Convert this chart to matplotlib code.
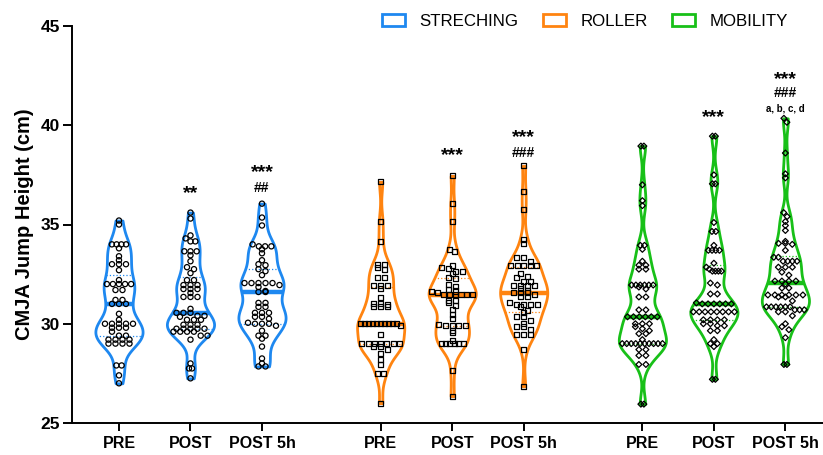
import numpy as np
import matplotlib
matplotlib.use("Agg")
import matplotlib.pyplot as plt
from matplotlib.patches import Patch

plt.rcParams['font.family'] = ['Liberation Sans', 'DejaVu Sans']

# values (cm)
stretch_pre = [35.2, 35.0, 34.0, 34.0, 34.0, 34.0, 33.8, 33.4, 33.2, 33.0, 33.0, 33.0,
               32.7, 32.2, 32.0, 32.0, 32.0, 32.0, 32.0, 31.7, 31.7, 31.2, 31.2,
               31.0, 31.0, 31.0, 30.5, 30.2, 30.0, 30.0, 30.0, 30.0, 30.0, 29.8, 29.8,
               29.8, 29.6, 29.4, 29.4, 29.2, 29.2, 29.2, 29.2, 29.0, 29.0, 29.0, 29.0,
               27.9, 27.9, 27.4, 27.0]
stretch_post = [35.6, 35.3, 34.45, 34.3, 34.15, 34.15, 33.65, 33.65, 33.65, 33.45,
                33.15, 32.85, 32.75, 32.55, 32.2, 32.2, 31.95, 31.95, 31.95, 31.75,
                31.75, 31.75, 31.55, 31.35, 31.35, 31.35, 30.75, 30.55, 30.55, 30.55,
                30.4, 30.4, 30.35, 30.2, 30.2, 30.2, 29.95, 29.95, 29.95, 29.75, 29.75,
                29.75, 29.75, 29.75, 29.6, 29.6, 29.6, 29.6, 29.4, 29.4, 29.2,
                28.0, 27.75, 27.75, 27.25]
stretch_5h = [36.05, 35.35, 34.95, 34.0, 33.9, 33.9, 33.9, 33.75, 33.55, 33.2, 33.0,
              32.95, 32.75, 32.65, 32.45, 32.05, 32.05, 32.05, 32.05, 32.05, 31.95,
              31.85, 31.65, 31.6, 31.6, 31.05, 31.05, 30.85, 30.85, 30.55, 30.55, 30.55,
              30.35, 30.35, 30.25, 30.05, 30.0, 30.0, 30.0, 29.9, 29.65, 29.4, 29.4,
              29.25, 28.85, 28.25, 28.0, 27.85, 27.85]
roller_pre = [37.15, 35.15, 34.15, 33.0, 33.0, 32.85, 32.75, 32.35, 32.35, 31.95, 31.95,
              31.95, 31.8, 31.3, 31.0, 31.0, 30.95, 30.85, 30.85, 30.85,
              30.0, 30.0, 30.0, 30.0, 30.0, 30.0, 30.0, 30.0, 30.0, 30.0, 29.9,
              29.45, 29.0, 29.0, 29.0, 29.0, 29.0, 29.0, 29.0, 28.85, 28.85, 28.7,
              28.5, 28.2, 27.95, 27.5, 27.5, 26.0]
roller_post = [37.45, 36.05, 35.15, 33.75, 33.65, 32.95, 32.85, 32.8, 32.65, 32.65,
               32.55, 32.35, 32.3, 32.0, 31.9, 31.75, 31.65, 31.6, 31.55, 31.45, 31.45,
               31.45, 31.45, 31.45, 31.45, 31.15, 31.15, 31.05, 30.9, 30.7, 30.45,
               30.25, 29.95, 29.9, 29.9, 29.9, 29.9, 29.65, 29.55, 29.15, 29.0, 29.0,
               29.0, 29.0, 29.0, 29.0, 27.65, 26.35]
roller_5h = [37.95, 36.65, 35.75, 34.25, 34.05, 33.35, 33.35, 33.15, 32.95, 32.95, 32.95,
             32.95, 32.95, 32.55, 32.4, 32.35, 32.15, 32.15, 31.95, 31.95, 31.95, 31.95,
             31.8, 31.65, 31.55, 31.55, 31.55, 31.45, 31.35, 31.35, 31.05, 30.95, 30.95,
             30.95, 30.95, 30.85, 30.65, 30.55, 30.35, 30.35, 30.15, 30.0, 29.85, 29.85,
             29.7, 29.45, 29.45, 29.45, 28.7, 26.85]
mobility_pre = [38.95, 38.95, 37.0, 36.2, 35.95, 33.95, 33.95, 33.75, 33.15, 32.95, 32.95,
                32.75, 32.75, 31.95, 31.95, 31.95, 31.95, 31.95, 31.95, 31.85, 31.75,
                31.35, 31.35, 30.7, 30.7, 30.35, 30.35, 30.35, 30.35, 30.35, 30.35,
                30.0, 30.0, 30.0, 29.85, 29.75, 29.65, 29.5, 29.5, 29.2, 29.0, 29.0,
                29.0, 29.0, 29.0, 29.0, 29.0, 29.0, 29.0, 29.0, 28.7, 28.7, 28.4, 28.4,
                27.95, 27.95, 25.95, 25.95]
mobility_post = [39.45, 39.45, 37.5, 37.05, 37.05, 35.1, 34.65, 34.65, 33.95, 33.7, 33.7,
                 33.7, 33.7, 33.05, 32.85, 32.75, 32.65, 32.65, 32.65, 32.65, 32.05,
                 31.95, 31.5, 31.5, 31.05, 31.0, 31.0, 31.0, 31.0, 31.0, 31.0,
                 30.6, 30.6, 30.6, 30.6, 30.6, 30.6, 30.6, 30.6, 30.2, 30.2, 30.2, 30.2,
                 30.0, 30.0, 29.9, 29.9, 29.65, 29.65, 29.2, 29.0, 29.0, 28.85, 27.2, 27.2]
mobility_5h = [40.35, 40.15, 38.6, 37.55, 37.35, 35.6, 35.4, 35.15, 34.95, 34.7, 34.15,
               34.05, 34.05, 34.0, 33.7, 33.35, 33.35, 33.15, 33.15, 33.15, 33.15, 32.85,
               32.85, 32.85, 32.6, 32.45, 32.15, 32.15, 32.15, 32.15, 32.0, 31.8, 31.8,
               31.45, 31.45, 31.45, 31.45, 31.45, 31.45, 31.35, 31.35, 31.15, 30.85,
               30.85, 30.85, 30.85, 30.85, 30.85, 30.7, 30.7, 30.7, 30.6, 30.6, 30.4,
               30.0, 29.85, 29.7, 29.3, 27.95, 27.95]

groups = [stretch_pre, stretch_post, stretch_5h,
          roller_pre, roller_post, roller_5h,
          mobility_pre, mobility_post, mobility_5h]
positions = [0, 1, 2, 3.66, 4.66, 5.66, 7.32, 8.32, 9.32]
tick_labels = ['PRE', 'POST', 'POST 5h'] * 3
treatments = ['STRECHING', 'ROLLER', 'MOBILITY']
colors = ['#1E88F0', '#FF8410', '#18C018']
markers = ['o', 's', 'D']
marker_sizes = [14, 13, 9]

# significance labels: (position index, text, y, fontsize)
sig_labels = [(1, '**', 36.55, 14), (2, '***', 37.6, 14), (2, '##', 36.85, 10),
              (4, '***', 38.45, 14), (5, '***', 39.4, 14), (5, '###', 38.6, 10),
              (7, '***', 40.4, 14), (8, '***', 42.3, 14), (8, '###', 41.6, 10),
              (8, 'a, b, c, d', 40.85, 7)]

XPX = 71.5   # px per x unit
YPX = 19.86  # px per cm


def kde(vals, grid, bw=0.55):
    d = (grid[:, None] - np.asarray(vals)[None, :]) / bw
    return np.exp(-0.5 * d ** 2).sum(1)


def rows(vals, grid, w, binsize=0.25, gap=7.0):
    # lay points out in horizontal rows that fit inside the violin
    vals = np.asarray(vals)
    offs = np.zeros(len(vals))
    bins = np.round(vals / binsize)
    for b in np.unique(bins):
        idx = np.where(bins == b)[0]
        n = len(idx)
        if n == 1:
            continue
        half = np.interp(vals[idx].mean(), grid, w) * XPX
        s = min(gap, max(2 * half - 6, 3) / (n - 1))
        offs[idx] = (np.arange(n) - (n - 1) / 2) * s / XPX
    return offs


fig = plt.figure(figsize=(8.23, 4.55), dpi=100)
ax = fig.add_axes([72 / 823, 32 / 455, 751 / 823, 397 / 455])

for i, (vals, pos) in enumerate(zip(groups, positions)):
    c = colors[i // 3]
    vals = np.array(vals)
    grid = np.linspace(vals.min(), vals.max(), 300)
    dens = kde(vals, grid)
    w = dens / dens.max() * 0.33
    ax.fill_betweenx(grid, pos - w, pos + w, facecolor='white', edgecolor=c,
                     linewidth=2.0, zorder=2, joinstyle='round')
    med = np.median(vals)
    wm = np.interp(med, grid, w)
    ax.plot([pos - wm, pos + wm], [med, med], color=c, lw=3.2, zorder=3,
            solid_capstyle='butt')
    for q in np.percentile(vals, [25, 75]):
        wq = np.interp(q, grid, w)
        ax.plot([pos - wq, pos + wq], [q, q], color=c, lw=0.9, ls=':', zorder=3)
    ax.scatter(pos + rows(vals, grid, w), vals, s=marker_sizes[i // 3],
               marker=markers[i // 3], facecolors='none', edgecolors='black',
               linewidths=0.9, zorder=4)

for idx, txt, y, fs in sig_labels:
    ax.text(positions[idx], y, txt, ha='center', va='center', fontsize=fs,
            fontweight='bold')

ax.set_xlim(-0.657, 9.846)
ax.set_ylim(25, 45)
ax.set_yticks([25, 30, 35, 40, 45])
ax.set_xticks(positions)
ax.set_xticklabels(tick_labels, fontsize=11.5, fontweight='bold')
for lab in ax.get_yticklabels():
    lab.set_fontweight('bold')
    lab.set_fontsize(12.5)
ax.tick_params(axis='y', length=6.5, width=1.4, pad=2)
ax.tick_params(axis='x', length=6, width=1.4, pad=3.5)
ax.spines['top'].set_visible(False)
ax.spines['right'].set_visible(False)
ax.spines['left'].set_linewidth(1.4)
ax.spines['bottom'].set_linewidth(1.4)
ax.set_ylabel('CMJA Jump Height (cm)', fontsize=14.5, fontweight='bold')
ax.yaxis.set_label_coords(-0.05, 0.5)

handles = [Patch(facecolor='white', edgecolor=c, linewidth=2, label=t)
           for c, t in zip(colors, treatments)]
fig.legend(handles=handles, loc='center', ncol=3, frameon=False, fontsize=12.2,
           bbox_to_anchor=(585 / 823, 1 - 21 / 455), handlelength=1.35,
           handleheight=0.7, handletextpad=0.85, columnspacing=1.45, borderpad=0)

fig.savefig('out.png', dpi=100)
